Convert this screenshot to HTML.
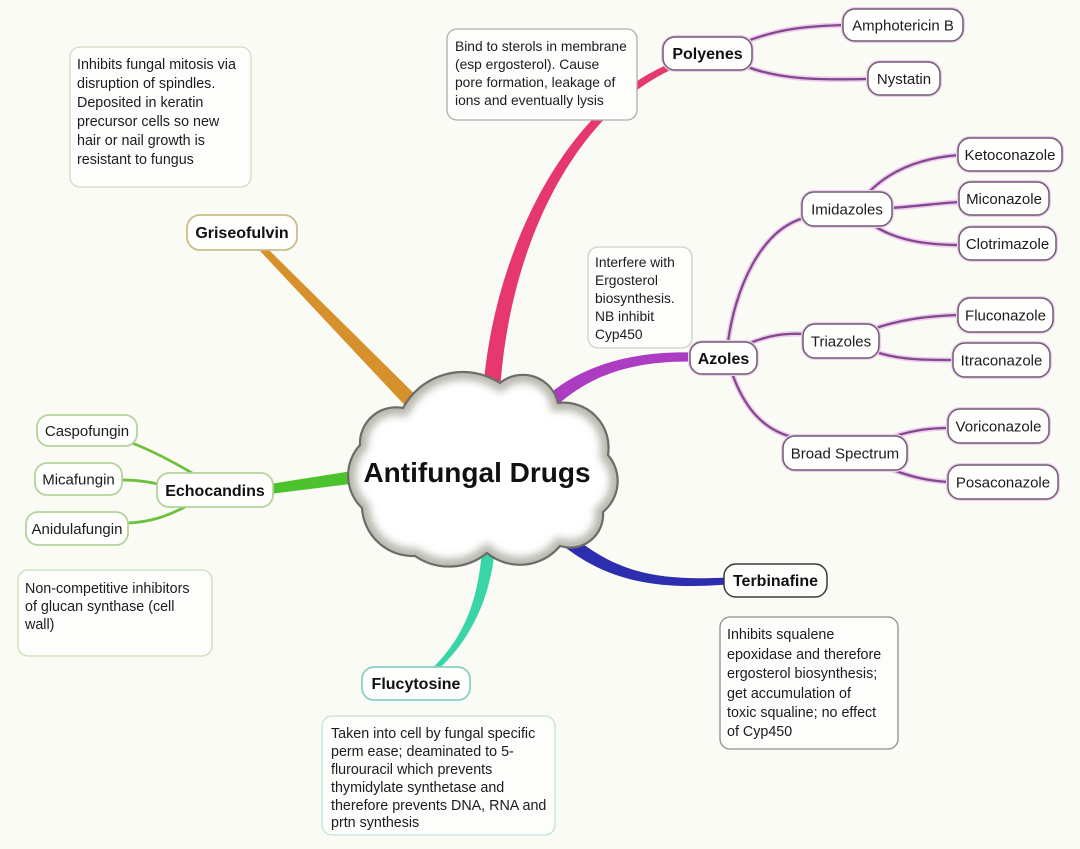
<!DOCTYPE html>
<html>
<head>
<meta charset="utf-8">
<style>
  html,body{margin:0;padding:0;background:#fbfbf6;}
  svg{display:block;}
  text{font-family:"Liberation Sans",Arial,sans-serif;fill:#1c1c1c;}
  .n{font-size:15px;text-anchor:middle;}
  .b{font-size:16px;font-weight:bold;text-anchor:middle;fill:#111;}
  .t{font-size:14.3px;}
  .ts{font-size:13.8px;}
</style>
</head>
<body>
<svg width="1080" height="849" viewBox="0 0 1080 849" xmlns="http://www.w3.org/2000/svg">
  <defs>
    <clipPath id="cc">
      <path id="cloudp" d="M 403,408 A 68,68 0 0 1 500,383 A 36,36 0 0 1 558,403 A 45,45 0 0 1 608,455 A 40,40 0 0 1 603,512 A 33,33 0 0 1 560,546 A 52,52 0 0 1 487,553 A 60,60 0 0 1 415,556 A 51,51 0 0 1 362,508 A 45,45 0 0 1 360,445 A 36,36 0 0 1 403,408 Z"/>
    </clipPath>
    <filter id="bl" x="-20%" y="-20%" width="140%" height="140%">
      <feGaussianBlur stdDeviation="4"/>
    </filter>
  </defs>
  <rect x="0" y="0" width="1080" height="849" fill="#fbfbf6"/>

  <!-- ===== main branches ===== -->
  <!-- gold (Griseofulvin) -->
  <path d="M 264.5,245.6 L 417.4,396.8 L 406.6,407.2 L 259.5,250.4 Z" fill="#d6912d"/>
  <!-- pink (Polyenes) -->
  <path d="M 499.5,400.5 C 506.5,250.4 572.2,115 673.2,68.8 L 670.8,63.3 C 567.8,105 491.5,249.6 482.5,399.6 Z" fill="#e6376f"/>
  <!-- purple (Azoles) -->
  <path d="M 545.1,416.8 C 583.1,376.8 628,361 692,361.5 L 692,352.5 C 628,351 572.9,367.2 534.9,407.2 Z" fill="#ac3cc2"/>
  <!-- green (Echocandins) -->
  <path d="M 270.8,493.9 L 363,482.4 L 361,469.6 L 269.2,484.1 Z" fill="#4cc22c"/>
  <!-- blue (Terbinafine) -->
  <path d="M 550.3,535.2 C 600.7,579.8 650.3,590.5 727.2,584.5 L 726.8,577.5 C 649.7,581.5 609.3,570.2 559.7,524.8 Z" fill="#2d2db0"/>
  <!-- teal (Flucytosine) -->
  <path d="M 495.5,540.3 C 492,600.3 468.4,642.6 435.7,671.8 L 432.3,668.2 C 463.6,637.4 480,599.7 482.5,539.7 Z" fill="#3ad5a7"/>

  <!-- ===== child connectors (purple) ===== -->
  <g fill="none" stroke="#e9bfe6" stroke-width="5.5" stroke-linecap="round" opacity="0.75">
    <path d="M 745,42 C 780,28 810,26 845,25"/>
    <path d="M 745,66 C 780,80 820,80 868,79"/>
    <path d="M 728,342 C 735,290 760,230 804,218"/>
    <path d="M 750,343 C 770,335 785,333 805,334"/>
    <path d="M 732,373 C 745,410 765,430 792,437"/>
    <path d="M 868,193 C 890,170 920,158 959,155"/>
    <path d="M 891,208 C 920,206 940,203 960,202"/>
    <path d="M 873,225 C 895,240 925,245 960,245"/>
    <path d="M 876,328 C 900,320 925,316 959,315"/>
    <path d="M 876,352 C 900,360 925,360 954,360"/>
    <path d="M 895,436 C 915,430 930,428 949,428"/>
    <path d="M 893,470 C 915,478 930,481 949,482"/>
  </g>
  <g fill="none" stroke="#83488f" stroke-width="2.3" stroke-linecap="round">
    <path d="M 745,42 C 780,28 810,26 845,25"/>
    <path d="M 745,66 C 780,80 820,80 868,79"/>
    <path d="M 728,342 C 735,290 760,230 804,218"/>
    <path d="M 750,343 C 770,335 785,333 805,334"/>
    <path d="M 732,373 C 745,410 765,430 792,437"/>
    <path d="M 868,193 C 890,170 920,158 959,155"/>
    <path d="M 891,208 C 920,206 940,203 960,202"/>
    <path d="M 873,225 C 895,240 925,245 960,245"/>
    <path d="M 876,328 C 900,320 925,316 959,315"/>
    <path d="M 876,352 C 900,360 925,360 954,360"/>
    <path d="M 895,436 C 915,430 930,428 949,428"/>
    <path d="M 893,470 C 915,478 930,481 949,482"/>
  </g>
  <!-- green children -->
  <g fill="none" stroke="#6cc13e" stroke-width="2.8" stroke-linecap="round">
    <path d="M 192,473 C 170,460 150,450 132,443"/>
    <path d="M 158,484 C 145,481 135,480 122,480"/>
    <path d="M 185,507 C 165,517 150,522 128,523"/>
  </g>

  <!-- ===== cloud ===== -->
  <use href="#cloudp" fill="#ffffff"/>
  <g clip-path="url(#cc)">
    <use href="#cloudp" fill="none" stroke="#b9b9b0" stroke-width="16" filter="url(#bl)"/>
  </g>
  <use href="#cloudp" fill="none" stroke="#6c6c68" stroke-width="2.2"/>
  <text x="477" y="482" style="font-size:28px;font-weight:bold;text-anchor:middle;fill:#111;">Antifungal Drugs</text>

  <!-- ===== notes ===== -->
  <rect x="70" y="47" width="181" height="140" rx="10" fill="#fdfdfb" stroke="#dcd6c4" stroke-width="1.3"/>
  <text class="t" x="77" y="69">Inhibits fungal mitosis via</text>
  <text class="t" x="77" y="88">disruption of spindles.</text>
  <text class="t" x="77" y="107">Deposited in keratin</text>
  <text class="t" x="77" y="126">precursor cells so new</text>
  <text class="t" x="77" y="145">hair or nail growth is</text>
  <text class="t" x="77" y="164">resistant to fungus</text>

  <rect x="447" y="29" width="190" height="91" rx="10" fill="#fdfdfb" stroke="#b0acac" stroke-width="1.3"/>
  <text class="ts" x="455" y="51">Bind to sterols in membrane</text>
  <text class="ts" x="455" y="69">(esp ergosterol). Cause</text>
  <text class="ts" x="455" y="87">pore formation, leakage of</text>
  <text class="ts" x="455" y="105">ions and eventually lysis</text>

  <rect x="588" y="247" width="104" height="101" rx="10" fill="#fdfdfb" stroke="#cfcfca" stroke-width="1.3"/>
  <text class="ts" x="595" y="267">Interfere with</text>
  <text class="ts" x="595" y="285">Ergosterol</text>
  <text class="ts" x="595" y="303">biosynthesis.</text>
  <text class="ts" x="595" y="321">NB inhibit</text>
  <text class="ts" x="595" y="339">Cyp450</text>

  <rect x="18" y="570" width="194" height="86" rx="10" fill="#fdfdfb" stroke="#c9deb6" stroke-width="1.3"/>
  <text class="t" x="25" y="593">Non-competitive inhibitors</text>
  <text class="t" x="25" y="611">of glucan synthase (cell</text>
  <text class="t" x="25" y="629">wall)</text>

  <rect x="720" y="617" width="178" height="132" rx="10" fill="#fdfdfb" stroke="#8e8e8e" stroke-width="1.3"/>
  <text class="t" x="727" y="639">Inhibits squalene</text>
  <text class="t" x="727" y="659">epoxidase and therefore</text>
  <text class="t" x="727" y="678">ergosterol biosynthesis;</text>
  <text class="t" x="727" y="698">get accumulation of</text>
  <text class="t" x="727" y="717">toxic squaline; no effect</text>
  <text class="t" x="727" y="736">of Cyp450</text>

  <rect x="322" y="716" width="233" height="119" rx="10" fill="#fdfdfb" stroke="#bfe3da" stroke-width="1.3"/>
  <text class="t" x="331" y="738">Taken into cell by fungal specific</text>
  <text class="t" x="331" y="756">perm ease; deaminated to 5-</text>
  <text class="t" x="331" y="774">flurouracil which prevents</text>
  <text class="t" x="331" y="792">thymidylate synthetase and</text>
  <text class="t" x="331" y="810">therefore prevents DNA, RNA and</text>
  <text class="t" x="331" y="827">prtn synthesis</text>

  <!-- ===== nodes ===== -->
  <!-- purple-family node halos -->
  <g fill="none" stroke="#efcdec" stroke-width="4">
    <rect x="843" y="9" width="120" height="32" rx="12"/>
    <rect x="868" y="62" width="72" height="33" rx="12"/>
    <rect x="663" y="37" width="89" height="33" rx="12"/>
    <rect x="958" y="138" width="104" height="33" rx="12"/>
    <rect x="959" y="182" width="90" height="33" rx="12"/>
    <rect x="959" y="227" width="97" height="33" rx="12"/>
    <rect x="802" y="192" width="90" height="34" rx="12"/>
    <rect x="803" y="324" width="76" height="34" rx="12"/>
    <rect x="958" y="298" width="95" height="34" rx="12"/>
    <rect x="953" y="343" width="97" height="34" rx="12"/>
    <rect x="783" y="436" width="124" height="34" rx="12"/>
    <rect x="948" y="409" width="101" height="34" rx="12"/>
    <rect x="948" y="465" width="110" height="34" rx="12"/>
    <rect x="690" y="342" width="67" height="32" rx="12"/>
  </g>
  <g fill="#fefefd" stroke="#6f5e72" stroke-width="1.5">
    <rect x="843" y="9" width="120" height="32" rx="12"/>
    <rect x="868" y="62" width="72" height="33" rx="12"/>
    <rect x="663" y="37" width="89" height="33" rx="12"/>
    <rect x="958" y="138" width="104" height="33" rx="12"/>
    <rect x="959" y="182" width="90" height="33" rx="12"/>
    <rect x="959" y="227" width="97" height="33" rx="12"/>
    <rect x="802" y="192" width="90" height="34" rx="12"/>
    <rect x="803" y="324" width="76" height="34" rx="12"/>
    <rect x="958" y="298" width="95" height="34" rx="12"/>
    <rect x="953" y="343" width="97" height="34" rx="12"/>
    <rect x="783" y="436" width="124" height="34" rx="12"/>
    <rect x="948" y="409" width="101" height="34" rx="12"/>
    <rect x="948" y="465" width="110" height="34" rx="12"/>
    <rect x="690" y="342" width="67" height="32" rx="12"/>
  </g>
  <text class="n" x="903" y="30.5">Amphotericin B</text>
  <text class="n" x="904" y="84">Nystatin</text>
  <text class="b" x="707.5" y="59">Polyenes</text>
  <text class="n" x="1010" y="160">Ketoconazole</text>
  <text class="n" x="1004" y="204">Miconazole</text>
  <text class="n" x="1007.5" y="249">Clotrimazole</text>
  <text class="n" x="847" y="214.5">Imidazoles</text>
  <text class="n" x="841" y="346.5">Triazoles</text>
  <text class="n" x="1005.5" y="320.5">Fluconazole</text>
  <text class="n" x="1001.5" y="365.5">Itraconazole</text>
  <text class="n" x="845" y="458.5">Broad Spectrum</text>
  <text class="n" x="998.5" y="431.5">Voriconazole</text>
  <text class="n" x="1003" y="487.5">Posaconazole</text>
  <text class="b" x="723.5" y="364">Azoles</text>

  <!-- green nodes -->
  <g fill="#fefefd" stroke="#b3d39a" stroke-width="1.8">
    <rect x="37" y="415" width="100" height="31" rx="12"/>
    <rect x="35" y="463" width="87" height="32" rx="12"/>
    <rect x="26" y="512" width="102" height="33" rx="12"/>
    <rect x="157" y="473" width="116" height="34" rx="12"/>
  </g>
  <text class="n" x="87" y="436">Caspofungin</text>
  <text class="n" x="78.5" y="484.5">Micafungin</text>
  <text class="n" x="77" y="534">Anidulafungin</text>
  <text class="b" x="215" y="496">Echocandins</text>

  <!-- Griseofulvin -->
  <rect x="187" y="215" width="110" height="35" rx="13" fill="#fefefd" stroke="#cdbc8a" stroke-width="1.8"/>
  <text class="b" x="242" y="238">Griseofulvin</text>

  <!-- Terbinafine -->
  <rect x="724" y="564" width="103" height="33" rx="12" fill="#fefefd" stroke="#3a3a3e" stroke-width="1.5"/>
  <text class="b" x="775.5" y="586">Terbinafine</text>

  <!-- Flucytosine -->
  <rect x="362" y="667" width="108" height="33" rx="12" fill="#fefefd" stroke="#8ccfc4" stroke-width="1.8"/>
  <text class="b" x="416" y="689">Flucytosine</text>
</svg>
</body>
</html>
